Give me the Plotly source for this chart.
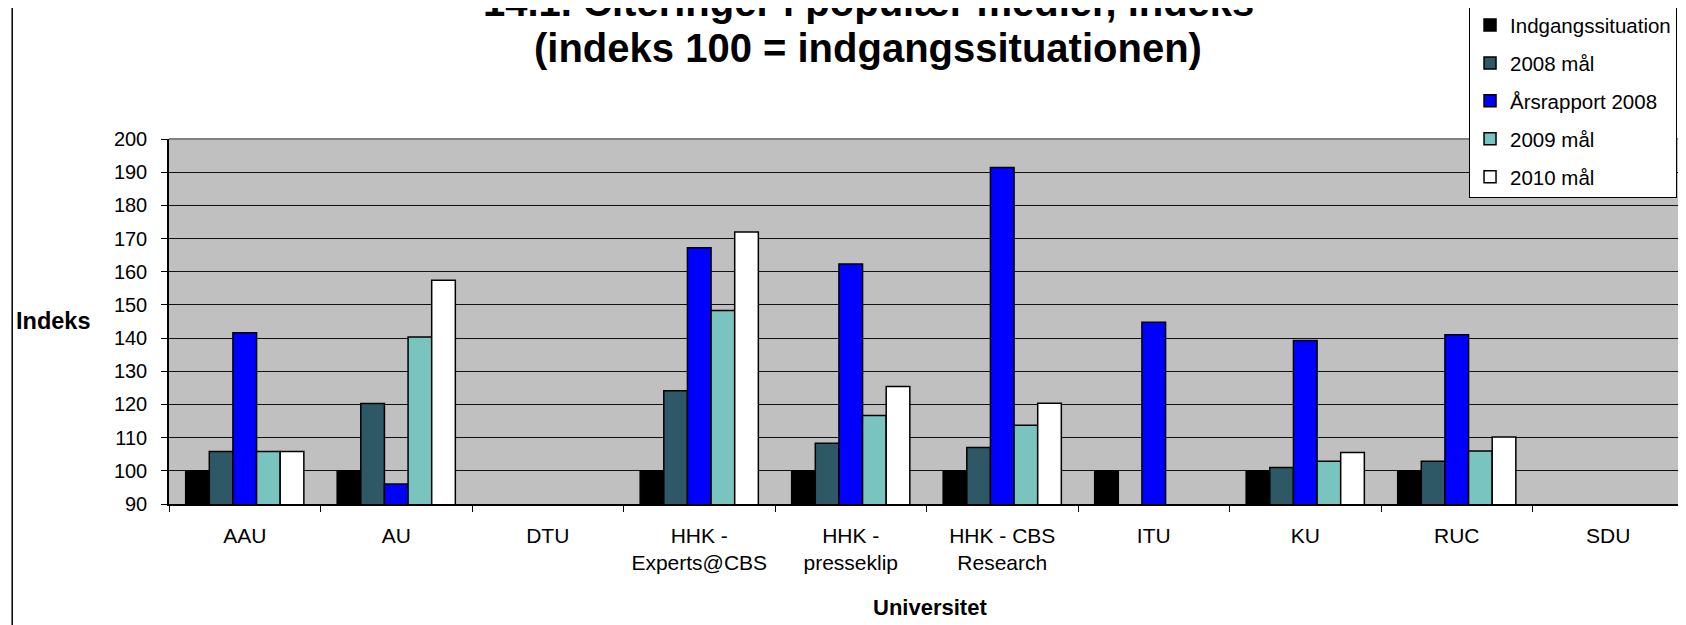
import plotly.graph_objects as go

categories = ["AAU", "AU", "DTU", "HHK -<br>Experts@CBS", "HHK -<br>presseklip",
              "HHK - CBS<br>Research", "ITU", "KU", "RUC", "SDU"]
series_names = ["Indgangssituation", "2008 mål", "Årsrapport 2008", "2009 mål", "2010 mål"]
indgang = [100, 100, None, 100, 100, 100, 100, 100, 100, None]
maal_2008 = [105.8, 120.3, None, 124.1, 108.3, 107.0, None, 101.0, 102.9, None]
aars_2008 = [141.6, 96.0, None, 167.2, 162.3, 191.4, 144.8, 139.3, 141.0, None]
maal_2009 = [105.8, 140.3, None, 148.3, 116.7, 113.7, None, 102.9, 106.0, None]
maal_2010 = [105.8, 157.4, None, 172.0, 125.4, 120.4, None, 105.5, 110.2, None]
y_ticks = [90, 100, 110, 120, 130, 140, 150, 160, 170, 180, 190, 200]
title_lines = ["14.1. Citeringer i populær medier, indeks", "(indeks 100 = indgangssituationen)"]

colors = ["#000000", "#2E5866", "#0000FF", "#79C4BE", "#FFFFFF"]
values = [indgang, maal_2008, aars_2008, maal_2009, maal_2010]

FONT = "Liberation Sans, Arial, sans-serif"

fig = go.Figure()
for name, vals, col in zip(series_names, values, colors):
    fig.add_trace(go.Bar(
        x=categories, y=vals, name=name, legendgroup=name,
        marker=dict(color=col, line=dict(color="#000000", width=1.5)),
    ))

fig.update_layout(
    width=1686, height=625,
    margin=dict(l=161, r=10, t=131, b=129, autoexpand=False),
    paper_bgcolor="white", plot_bgcolor="#C0C0C0",
    barmode="group", bargap=0.22, bargroupgap=0,
    font=dict(family=FONT, size=20, color="black"),
    showlegend=True,
    legend=dict(
        x=0.9954, xanchor="right", y=1.3695, yanchor="top",
        bgcolor="white", bordercolor="black", borderwidth=1,
        font=dict(family=FONT, size=20.5, color="black"),
        tracegroupgap=8.3, traceorder="grouped",
    ),
)

fig.update_xaxes(
    showline=True, linecolor="black", linewidth=1.5,
    ticks="outside", ticklen=6, tickcolor="black", tickwidth=1,
    tickson="boundaries", showgrid=False, automargin=False,
    tickfont=dict(family=FONT, size=21, color="black"),
    ticklabelstandoff=12,
)
fig.update_yaxes(
    range=[90, 200], tickvals=y_ticks, automargin=False,
    showline=True, linecolor="black", linewidth=1.5,
    ticks="outside", ticklen=6, tickcolor="black", tickwidth=1,
    showgrid=True, gridcolor="#111111", gridwidth=1.2,
    tickfont=dict(family=FONT, size=20, color="black"),
    ticklabelstandoff=10, zeroline=False,
)

# plot-area border (top and right) in gray
fig.add_shape(type="line", xref="paper", yref="paper", x0=0, x1=1, y0=1, y1=1,
              line=dict(color="#808080", width=2), layer="above")
fig.add_shape(type="line", xref="paper", yref="paper", x0=1, x1=1, y0=0, y1=1,
              line=dict(color="#808080", width=2), layer="above")
# chart-area left border
fig.add_shape(type="line", xref="paper", yref="paper", x0=-0.1035, x1=-0.1035, y0=-0.36, y1=1.39,
              line=dict(color="#000000", width=1.5), layer="above")

# title (first line partly cut off at top, as in the reference)
fig.add_annotation(
    text="<b>" + title_lines[0] + "</b>",
    xref="paper", yref="paper", x=0.4614, y=1.375, xanchor="center", yanchor="middle",
    showarrow=False, font=dict(family=FONT, size=40, color="black"),
)
fig.add_annotation(
    text="<b>" + title_lines[1] + "</b>",
    xref="paper", yref="paper", x=0.4614, y=1.2493, xanchor="center", yanchor="middle",
    showarrow=False, font=dict(family=FONT, size=40, color="black"),
)
fig.add_annotation(
    text="<b>Indeks</b>", xref="paper", yref="paper", x=-0.0767, y=0.502,
    xanchor="center", yanchor="middle", showarrow=False,
    font=dict(family=FONT, size=23.5, color="black"),
)
fig.add_annotation(
    text="<b>Universitet</b>", xref="paper", yref="paper", x=0.5023, y=-0.283,
    xanchor="center", yanchor="middle", showarrow=False,
    font=dict(family=FONT, size=22, color="black"),
)

fig.write_html("out.html")
